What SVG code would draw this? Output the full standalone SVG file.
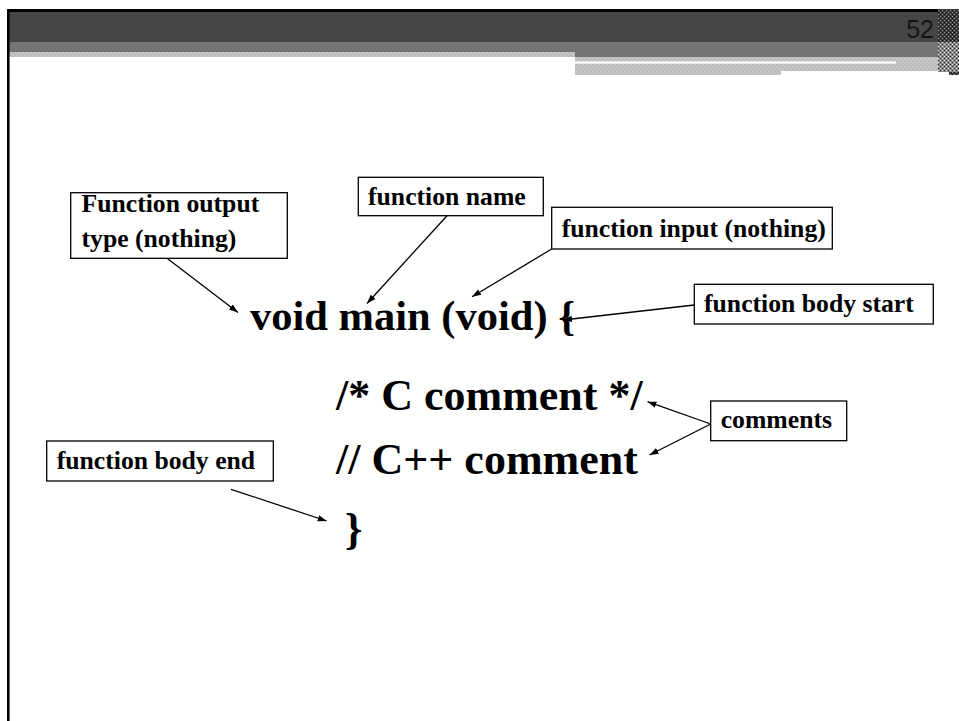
<svg xmlns="http://www.w3.org/2000/svg" width="959" height="721" viewBox="0 0 959 721">
  <defs>
    <style>
      .code { font-family: "Liberation Serif", "Times New Roman", serif; font-weight: bold; font-size: 44px; fill: #000; }
      .lbl { font-family: "Liberation Serif", "Times New Roman", serif; font-weight: bold; font-size: 25.7px; fill: #000; }
      .box { fill: #fff; stroke: #000; stroke-width: 1.3; }
      .conn line { stroke: #000; stroke-width: 1.3; marker-end: url(#arrow); }
    </style>
    <marker id="arrow" markerUnits="userSpaceOnUse" markerWidth="10" markerHeight="8" refX="9" refY="4" orient="auto">
      <path d="M0,0.8 L9,4 L0,7.2 Z" fill="#000"/>
    </marker>
    <!-- light checker used by the header strips -->
    <pattern id="lightChk" width="4" height="4" patternUnits="userSpaceOnUse">
      <rect width="4" height="4" fill="#c6c6c6"/>
      <rect width="2" height="2" fill="#bababa"/>
      <rect x="2" y="2" width="2" height="2" fill="#bababa"/>
    </pattern>
    <!-- dithered texture for the right edge column -->
    <pattern id="darkDither" width="4" height="4" patternUnits="userSpaceOnUse">
      <rect width="4" height="4" fill="#3a3a3a"/>
      <rect width="1" height="1" fill="#9a9a9a"/>
      <rect x="2" y="2" width="1" height="1" fill="#9a9a9a"/>
      <rect x="2" y="0" width="1" height="1" fill="#101010"/>
      <rect x="0" y="2" width="1" height="1" fill="#101010"/>
    </pattern>
    <pattern id="midDither" width="4" height="4" patternUnits="userSpaceOnUse">
      <rect width="4" height="4" fill="#8a8a8a"/>
      <rect width="1" height="1" fill="#e0e0e0"/>
      <rect x="2" y="2" width="1" height="1" fill="#e0e0e0"/>
      <rect x="2" y="0" width="1" height="1" fill="#2a2a2a"/>
      <rect x="0" y="2" width="1" height="1" fill="#2a2a2a"/>
    </pattern>
  </defs>

  <rect width="959" height="721" fill="#fff"/>

  <!-- slide header bands -->
  <g id="header">
    <rect x="9" y="12" width="929" height="30" fill="#464646"/>
    <rect x="9" y="42" width="929" height="10" fill="#737373"/>
    <rect x="575" y="52" width="363" height="5" fill="#737373"/>
    <rect x="9" y="52" width="566" height="5" fill="url(#lightChk)"/>
    <rect x="575" y="57" width="363" height="18" fill="url(#lightChk)"/>
    <rect x="575" y="61.5" width="321" height="2.2" fill="#fff"/>
    <rect x="781" y="71" width="167" height="4" fill="#fff"/>
    <rect x="938" y="9" width="21" height="33" fill="url(#darkDither)"/>
    <rect x="938" y="42" width="21" height="30" fill="url(#midDither)"/>
    <rect x="949" y="72" width="10" height="3" fill="url(#darkDither)"/>
    <rect x="7" y="9" width="931" height="3" fill="#000"/>
    <rect x="7" y="9" width="2.6" height="712" fill="#000"/>
    <text x="934" y="38" text-anchor="end" font-family="Liberation Sans, Arial, sans-serif" font-size="25" fill="#151515">52</text>
  </g>

  <!-- code lines -->
  <g id="code">
    <text class="code" x="250" y="330" style="font-size:42.5px">void main (void) {</text>
    <text class="code" x="336" y="410">/* C comment */</text>
    <text class="code" x="336" y="474">// C++ comment</text>
    <text class="code" x="345" y="544">}</text>
  </g>

  <!-- connectors -->
  <g id="connectors" class="conn">
    <line x1="167" y1="258.3" x2="238" y2="312.5"/>
    <line x1="447" y1="215.7" x2="367" y2="303.5"/>
    <line x1="551.7" y1="249" x2="472" y2="296.7"/>
    <line x1="694.3" y1="305" x2="563" y2="320"/>
    <line x1="710.7" y1="424" x2="647.5" y2="401.7"/>
    <line x1="710.7" y1="424" x2="649.5" y2="455"/>
    <line x1="231" y1="489.3" x2="326.7" y2="521"/>
  </g>

  <g id="lbl-output-type">
    <rect class="box" x="70.7" y="192.7" width="216.6" height="65.6"/>
    <text class="lbl" x="81.5" y="211.7">Function output</text>
    <text class="lbl" x="81.5" y="247.3">type (nothing)</text>
  </g>
  <g id="lbl-name">
    <rect class="box" x="358.3" y="177.3" width="185" height="38.4"/>
    <text class="lbl" x="368" y="205">function name</text>
  </g>
  <g id="lbl-input">
    <rect class="box" x="551.7" y="207.3" width="280.6" height="41.7"/>
    <text class="lbl" x="561.7" y="236.7">function input (nothing)</text>
  </g>
  <g id="lbl-body-start">
    <rect class="box" x="694.3" y="284.3" width="239" height="39.7"/>
    <text class="lbl" x="704" y="311.7">function body start</text>
  </g>
  <g id="lbl-comments">
    <rect class="box" x="710.7" y="401" width="136" height="39.7"/>
    <text class="lbl" x="720.7" y="428">comments</text>
  </g>
  <g id="lbl-body-end">
    <rect class="box" x="46.7" y="441" width="226.6" height="40"/>
    <text class="lbl" x="56.7" y="469.3">function body end</text>
  </g>
</svg>
